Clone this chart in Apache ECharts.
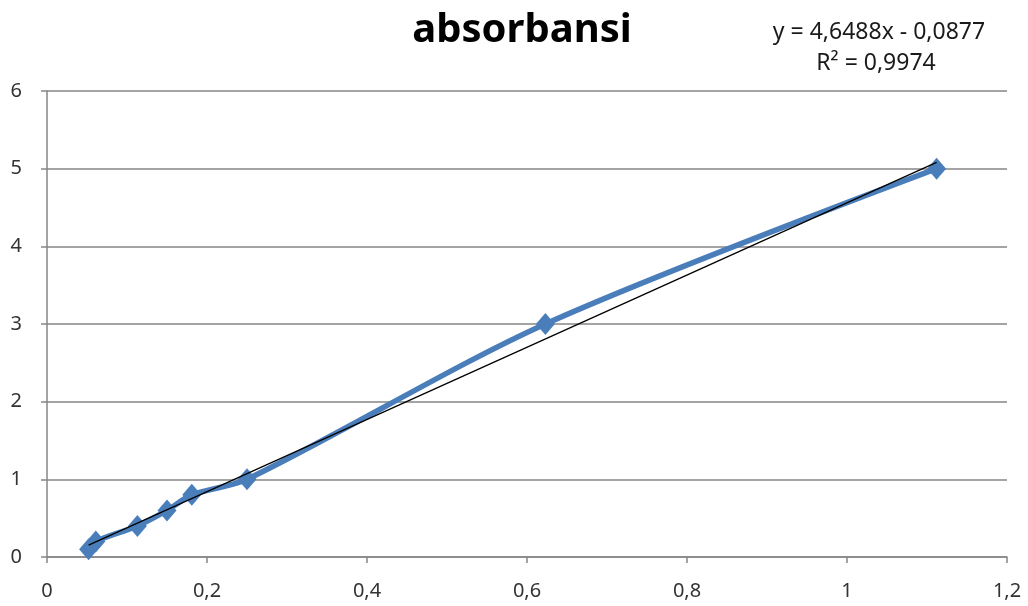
<!DOCTYPE html>
<html>
<head>
<meta charset="utf-8">
<script src="https://cdn.jsdelivr.net/npm/echarts@6/dist/echarts.min.js"></script>
<style>
html,body{margin:0;padding:0;background:#fff;}
#chart{width:1028px;height:606px;}
</style>
</head>
<body>
<div id="chart"></div>
<script>
// Data
const absorbance = [0.052, 0.061, 0.113, 0.150, 0.181, 0.250, 0.623, 1.112];
const concentration = [0.1, 0.2, 0.4, 0.6, 0.8, 1.0, 3.0, 5.0];
const trendSlope = 4.6488;
const trendIntercept = -0.0877;
const rSquared = '0,9974';
const titleText = 'absorbansi';
const xTicks = [0, 0.2, 0.4, 0.6, 0.8, 1, 1.2];
const yTicks = [0, 1, 2, 3, 4, 5, 6];

const fmt = v => String(+(+v).toFixed(1)).replace('.', ',');
const points = absorbance.map((x, i) => [x, concentration[i]]);
const xs = [absorbance[0], absorbance[absorbance.length - 1]];
const trend = xs.map(x => [x, trendSlope * x + trendIntercept]);
const eqText = 'y = ' + String(trendSlope).replace('.', ',') + 'x - ' + String(-trendIntercept).replace('.', ',');

const FONT = 'Noto Sans';
const chart = echarts.init(document.getElementById('chart'), null, {renderer: 'canvas'});
chart.setOption({
  backgroundColor: '#ffffff',
  animation: false,
  graphic: [
    {type: 'text', x: 522, y: 31, style: {text: titleText, font: 'bold 40px "Noto Sans"', fill: '#000', textAlign: 'center', textVerticalAlign: 'middle'}},
    {type: 'text', x: 879, y: 32, style: {text: eqText, font: '23px "Noto Sans"', fill: '#1a1a1a', textAlign: 'center', textVerticalAlign: 'middle'}},
    {type: 'text', x: 876, y: 63, style: {text: 'R² = ' + rSquared, font: '23px "Noto Sans"', fill: '#1a1a1a', textAlign: 'center', textVerticalAlign: 'middle'}}
  ],
  grid: {left: 47, right: 21, top: 91, bottom: 49, containLabel: false},
  xAxis: {
    type: 'value', min: xTicks[0], max: xTicks[xTicks.length - 1], interval: 0.2,
    axisLine: {show: true, lineStyle: {color: '#868686', width: 1.5}},
    axisTick: {show: true, length: 6, lineStyle: {color: '#868686', width: 1.5}},
    splitLine: {show: false},
    axisLabel: {formatter: fmt, fontFamily: FONT, fontSize: 20, color: '#333', margin: 24}
  },
  yAxis: {
    type: 'value', min: yTicks[0], max: yTicks[yTicks.length - 1], interval: 1,
    axisLine: {show: true, lineStyle: {color: '#868686', width: 1.5}},
    axisTick: {show: true, length: 6, lineStyle: {color: '#868686', width: 1.5}},
    splitLine: {show: true, lineStyle: {color: '#868686', width: 1.5}},
    axisLabel: {formatter: fmt, fontFamily: FONT, fontSize: 20, color: '#333', margin: 25}
  },
  series: [
    {
      type: 'line', data: points, smooth: 0.3,
      symbol: 'diamond', symbolSize: [19, 22],
      lineStyle: {color: '#4A7EBB', width: 5.5},
      itemStyle: {color: '#4A7EBB'},
      z: 2
    },
    {
      type: 'line', data: trend, symbol: 'none',
      lineStyle: {color: '#000', width: 1.3},
      z: 3
    }
  ]
});
</script>
</body>
</html>
